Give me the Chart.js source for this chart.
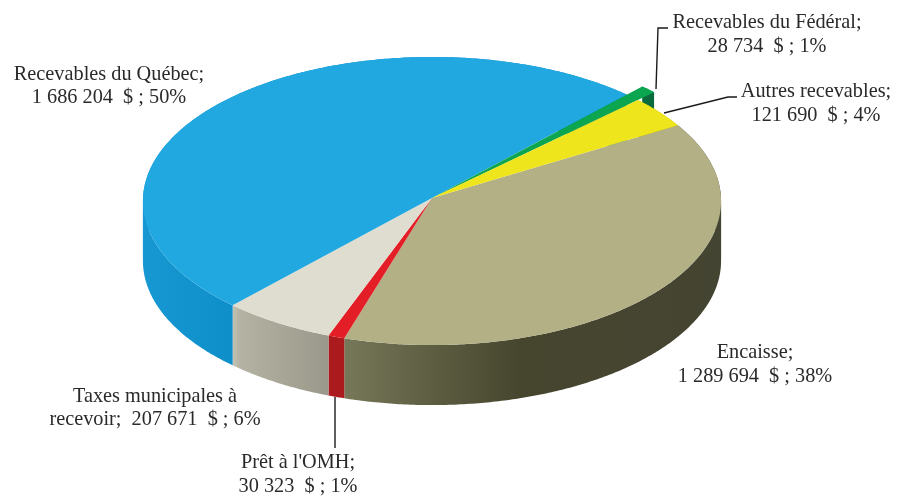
<!DOCTYPE html>
<html lang="fr">
<head>
<meta charset="utf-8">
<title>Recevables</title>
<script src="https://cdn.jsdelivr.net/npm/chart.js@4"></script>
<style>
  html, body { margin: 0; padding: 0; background: #fff; }
  canvas { display: block; }
</style>
</head>
<body>
<canvas id="chart" width="897" height="496"></canvas>
<script>
// Données (sens horaire, à partir de l'Encaisse)
const categories = ['Encaisse', "Prêt à l'OMH", 'Taxes municipales à recevoir', 'Recevables du Québec', 'Recevables du Fédéral', 'Autres recevables'];
const amounts = [1289694, 30323, 207671, 1686204, 28734, 121690];
const topColors = ['#b2b084', '#e41e26', '#dfddd0', '#21a8e1', '#0ca650', '#efe51c'];

// Dégradés des parois : [x, couleur]
const wallStops = [
  [[343, '#77785a'], [430, '#5e5e42'], [520, '#46462f'], [721, '#444432']],
  [[328, '#ab1a1c'], [343, '#ab1a1c']],
  [[233, '#c2c1b2'], [240, '#b4b3a3'], [328, '#99988a']],
  [[143, '#1798d3'], [233, '#0f8fca']],
  [[640, '#0a6b3e'], [662, '#0a6b3e']],
  [[660, '#b8b000'], [690, '#b8b000']]
];
// Le Fédéral dépasse légèrement du disque
const rimScale = [1, 1, 1, 1, 1.08, 1];

const labelLines = [
  { x: 755, lines: [['Encaisse;', 358], ['1 289 694  $ ; 38%', 382]] },
  { x: 298, lines: [["Prêt à l'OMH;", 468], ['30 323  $ ; 1%', 492]] },
  { x: 155, lines: [['Taxes municipales à', 402], ['recevoir;  207 671  $ ; 6%', 425]] },
  { x: 109, lines: [['Recevables du Québec;', 80], ['1 686 204  $ ; 50%', 103]] },
  { x: 767, lines: [['Recevables du Fédéral;', 28], ['28 734  $ ; 1%', 52]] },
  { x: 816, lines: [['Autres recevables;', 97], ['121 690  $ ; 4%', 121]] }
];
const leaders = [
  [[656, 89], [658, 28], [668, 28]],
  [[664, 113], [728, 97], [737, 97]],
  [[335, 397], [335, 448]]
];

// Projection du disque, avec une légère perspective
const cx = 432, cy = 198, a = 289, b = 144, k = 0.021, depth = 60;
function project(angle, scale) {
  const u = Math.cos(angle) * scale, v = Math.sin(angle) * scale, w = 1 - k * v;
  return [cx + a * u / w, cy + b * v / w];
}
function rimPoints(start, end, scale) {
  const pts = [];
  const n = Math.max(2, Math.ceil((end - start) / 0.01));
  for (let i = 0; i <= n; i++) pts.push(project(start + (end - start) * i / n, scale));
  return pts;
}
// Coupe le bord aux extrémités gauche et droite, sinon la bande se replie et laisse un trou
function monotonicRuns(pts) {
  const runs = [];
  let run = [pts[0]], dir = 0;
  for (let j = 1; j < pts.length; j++) {
    const step = Math.sign(pts[j][0] - pts[j - 1][0]);
    if (dir && step && step !== dir) {
      runs.push(run);
      run = [pts[j - 1]];
    }
    if (step) dir = step;
    run.push(pts[j]);
  }
  runs.push(run);
  return runs;
}

const pie3d = {
  id: 'pie3d',
  beforeDatasetsDraw(chart) {
    const ctx = chart.ctx;
    const arcs = chart.getDatasetMeta(0).data;
    // parois
    arcs.forEach((arc, i) => {
      const stops = wallStops[i];
      const x0 = stops[0][0], x1 = stops[stops.length - 1][0];
      const grad = ctx.createLinearGradient(x0, 0, x1, 0);
      stops.forEach(s => grad.addColorStop((s[0] - x0) / (x1 - x0), s[1]));
      ctx.fillStyle = grad;
      monotonicRuns(rimPoints(arc.startAngle, arc.endAngle, rimScale[i])).forEach(run => {
        ctx.beginPath();
        run.forEach((p, j) => j ? ctx.lineTo(p[0], p[1]) : ctx.moveTo(p[0], p[1]));
        run.slice().reverse().forEach(p => ctx.lineTo(p[0], p[1] + depth));
        ctx.closePath();
        ctx.fill();
      });
    });
    // faces du dessus
    arcs.forEach((arc, i) => {
      ctx.beginPath();
      ctx.moveTo(cx, cy);
      rimPoints(arc.startAngle, arc.endAngle, rimScale[i]).forEach(p => ctx.lineTo(p[0], p[1]));
      ctx.closePath();
      ctx.fillStyle = arc.options.backgroundColor;
      ctx.fill();
    });
    return false;
  },
  afterDraw(chart) {
    const ctx = chart.ctx;
    ctx.save();
    ctx.strokeStyle = '#1a1a1a';
    ctx.lineWidth = 1.4;
    leaders.forEach(line => {
      ctx.beginPath();
      line.forEach((p, j) => j ? ctx.lineTo(p[0], p[1]) : ctx.moveTo(p[0], p[1]));
      ctx.stroke();
    });
    ctx.fillStyle = '#2b2a2a';
    ctx.font = '20.3px "Liberation Serif"';
    ctx.textAlign = 'center';
    ctx.textBaseline = 'alphabetic';
    labelLines.forEach(l => l.lines.forEach(t => ctx.fillText(t[0], l.x, t[1])));
    ctx.restore();
  }
};

new Chart(document.getElementById('chart'), {
  type: 'pie',
  data: {
    labels: categories,
    datasets: [{ data: amounts, backgroundColor: topColors, borderWidth: 0 }]
  },
  options: {
    responsive: false,
    animation: false,
    rotation: 59.3,
    plugins: { legend: { display: false }, tooltip: { enabled: false } }
  },
  plugins: [pie3d]
});
</script>
</body>
</html>
